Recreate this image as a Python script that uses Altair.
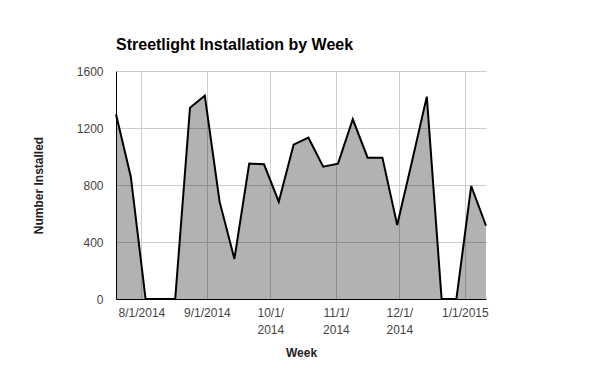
import altair as alt
import pandas as pd

weeks = ["2014-07-20", "2014-07-27", "2014-08-03", "2014-08-10", "2014-08-17",
         "2014-08-24", "2014-08-31", "2014-09-07", "2014-09-14", "2014-09-21",
         "2014-09-28", "2014-10-05", "2014-10-12", "2014-10-19", "2014-10-26",
         "2014-11-02", "2014-11-09", "2014-11-16", "2014-11-23", "2014-11-30",
         "2014-12-07", "2014-12-14", "2014-12-21", "2014-12-28", "2015-01-04",
         "2015-01-11"]
installed = [1296, 858, 0, 0, 0, 1342, 1427, 683, 281, 950,
             945, 683, 1083, 1132, 929, 950, 1261, 992, 992, 519,
             965, 1420, 0, 0, 793, 514]

tick_dates = [(2014, 8), (2014, 9), (2014, 10), (2014, 11), (2014, 12), (2015, 1)]
y_ticks = [0, 400, 800, 1200, 1600]

df = pd.DataFrame({"week": weeks, "installed": installed})

FONT = "Liberation Sans"

x_enc = alt.X(
    "week:T",
    scale=alt.Scale(type="utc",
                    domain=[alt.DateTime(year=2014, month=7, date=20, utc=True),
                            alt.DateTime(year=2015, month=1, date=11, utc=True)]),
    axis=alt.Axis(
        title="Week",
        values=[alt.DateTime(year=y, month=m, date=1, utc=True) for y, m in tick_dates],
        labelExpr="length(utcFormat(datum.value,'%-m/%-d/%Y')) > 8 ? "
                  "[utcFormat(datum.value,'%-m/%-d/'), utcFormat(datum.value,'%Y')] : "
                  "utcFormat(datum.value,'%-m/%-d/%Y')",
        ticks=False,
        labelPadding=8,
        labelFont=FONT, labelFontSize=12, labelColor="#444444",
        labelLineHeight=17,
        domainColor="#000000", domainWidth=1,
        gridColor="#cccccc", gridWidth=1,
        titleFont=FONT, titleFontSize=12, titleFontWeight="bold", titleColor="#222222",
        titleX=185, titleY=53, titleBaseline="middle", titleAlign="center",
    ),
)

y_enc = alt.Y(
    "installed:Q",
    scale=alt.Scale(domain=[0, 1600], nice=False),
    axis=alt.Axis(
        title="Number Installed",
        values=y_ticks,
        format="d",
        ticks=False,
        labelPadding=13,
        labelFont=FONT, labelFontSize=12, labelColor="#444444",
        domainColor="#000000", domainWidth=1,
        gridColor="#cccccc", gridWidth=1,
        titleFont=FONT, titleFontSize=12, titleFontWeight="bold", titleColor="#222222",
        titleX=-78, titleY=114, titleAngle=270, titleAlign="center", titleBaseline="middle",
    ),
)

area = alt.Chart(df).mark_area(color="#000000", fillOpacity=0.3).encode(x=x_enc, y=y_enc)
line = alt.Chart(df).mark_line(color="#000000", strokeWidth=2).encode(x="week:T", y="installed:Q")

chart = (area + line).properties(
    width=370,
    height=228,
    title=alt.TitleParams("Streetlight Installation by Week", anchor="start", frame="group",
                          font=FONT, fontSize=16, fontWeight="bold", color="#000000",
                          offset=12),
    autosize=alt.AutoSizeParams(type="none"),
    padding={"left": 108, "top": 63, "right": 100, "bottom": 62},
).configure_view(stroke=None)

chart.save("out.html", embed_options={"renderer": "svg", "actions": False})
